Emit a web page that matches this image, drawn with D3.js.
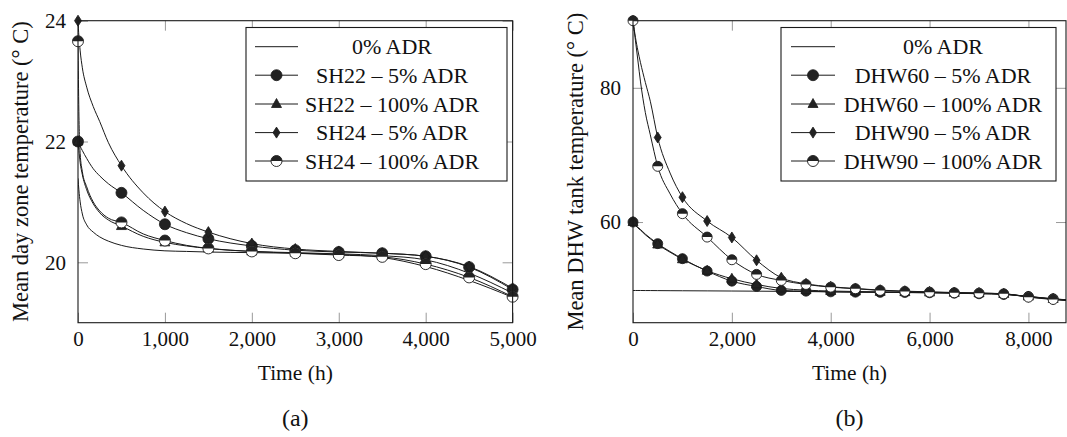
<!DOCTYPE html>
<html>
<head>
<meta charset="utf-8">
<script src="https://cdn.jsdelivr.net/npm/d3@7"></script>
<style>
  body { margin: 0; background: #fff; }
  text { font-family: "Liberation Serif", "DejaVu Serif", serif; fill: #111; }
</style>
</head>
<body>
<div id="main"></div>
<script>
// ---- data (a): mean day zone temperature ----
var leftTime = [0, 10, 25, 50, 100, 175, 250, 350, 500, 750, 1000, 1250, 1500, 2000, 2500, 3000, 3500, 4000, 4500, 5000];
var sh0   = [21.39, 21.2, 21.0, 20.8, 20.62, 20.5, 20.42, 20.35, 20.28, 20.22, 20.19, 20.18, 20.17, 20.16, 20.15, 20.13, 20.08, 19.93, 19.7, 19.42];
var sh22_5   = [22, 21.97, 21.92, 21.85, 21.72, 21.55, 21.43, 21.3, 21.15, 20.86, 20.63, 20.49, 20.39, 20.27, 20.2, 20.17, 20.15, 20.1, 19.92, 19.55];
var sh22_100 = [22, 21.85, 21.65, 21.45, 21.2, 20.97, 20.82, 20.7, 20.6, 20.43, 20.33, 20.27, 20.23, 20.18, 20.16, 20.14, 20.11, 20.04, 19.82, 19.49];
var sh24_5   = [24, 23.75, 23.5, 23.22, 22.9, 22.58, 22.33, 21.98, 21.6, 21.15, 20.84, 20.64, 20.5, 20.31, 20.22, 20.18, 20.15, 20.1, 19.93, 19.57];
var sh24_100 = [23.66, 22.5, 21.8, 21.5, 21.25, 21.0, 20.85, 20.73, 20.66, 20.47, 20.36, 20.28, 20.23, 20.18, 20.15, 20.12, 20.09, 19.97, 19.75, 19.43];
var leftXTicks = [0, 1000, 2000, 3000, 4000, 5000];
var leftYTicks = [20, 22, 24];
var leftLabels = ["0% ADR", "SH22 \u2013 5% ADR", "SH22 \u2013 100% ADR", "SH24 \u2013 5% ADR", "SH24 \u2013 100% ADR"];

// ---- data (b): mean DHW tank temperature ----
var rightTime = [0, 50, 100, 150, 250, 350, 500, 750, 1000, 1500, 2000, 2500, 3000, 3500, 4000, 4500, 5000, 5500, 6000, 6500, 7000, 7500, 8000, 8500, 8760];
var dhw0     = [49.8, 49.8, 49.8, 49.8, 49.79, 49.79, 49.78, 49.77, 49.76, 49.74, 49.72, 49.7, 49.67, 49.64, 49.6, 49.56, 49.53, 49.5, 49.46, 49.41, 49.35, 49.25, 48.9, 48.5, 48.35];
var dhw60_5   = [60, 59.6, 59.2, 58.9, 58.2, 57.6, 56.78, 55.6, 54.54, 52.69, 51.19, 50.4, 49.81, 49.7, 49.6, 49.55, 49.52, 49.5, 49.46, 49.4, 49.31, 49.2, 48.91, 48.57, 48.42];
var dhw60_100 = [60, 59.5, 59.1, 58.8, 58.1, 57.5, 56.65, 55.5, 54.45, 52.75, 51.55, 50.7, 50.1, 49.85, 49.72, 49.65, 49.6, 49.55, 49.5, 49.45, 49.38, 49.28, 48.9, 48.55, 48.4];
var dhw90_5   = [90, 87.5, 85.5, 83.8, 80.8, 78.0, 72.6, 67.3, 63.7, 60.15, 57.7, 54.3, 51.7, 50.8, 50.35, 50.1, 49.85, 49.7, 49.6, 49.5, 49.42, 49.32, 48.85, 48.5, 48.35];
var dhw90_100 = [90, 87.0, 84.0, 81.0, 76.3, 73.0, 68.3, 64.2, 61.25, 57.76, 54.38, 52.2, 51.3, 50.7, 50.3, 50.06, 49.81, 49.66, 49.55, 49.46, 49.4, 49.3, 48.8, 48.46, 48.3];
var rightXTicks = [0, 2000, 4000, 6000, 8000];
var rightYTicks = [60, 80];
var rightLabels = ["0% ADR", "DHW60 \u2013 5% ADR", "DHW60 \u2013 100% ADR", "DHW90 \u2013 5% ADR", "DHW90 \u2013 100% ADR"];

var markTypes = ["none", "circle", "triangle", "diamond", "halfcircle"];

var svg = d3.select("#main").append("svg")
    .attr("width", 1067)
    .attr("height", 437);

var ink = "#1a1a1a";

// draw one marker of the given type at (0,0) inside group g
function drawMark(g, type, r) {
  if (type == "circle") {
    g.append("circle").attr("r", r).attr("fill", "#222").attr("stroke", ink).attr("stroke-width", 0.8);
  } else if (type == "triangle") {
    g.append("path").attr("d", "M0,-5.5L5,3.5L-5,3.5Z").attr("fill", "#222").attr("stroke", ink).attr("stroke-width", 0.8);
  } else if (type == "diamond") {
    g.append("path").attr("d", "M0,-5.5L3.5,0L0,5.5L-3.5,0Z").attr("fill", "#222").attr("stroke", ink).attr("stroke-width", 0.8);
  } else if (type == "halfcircle") {
    g.append("circle").attr("r", r).attr("fill", "#fff").attr("stroke", ink).attr("stroke-width", 0.9);
    g.append("path").attr("d", "M" + (-r) + ",0A" + r + "," + r + " 0 0 1 " + r + ",0Z").attr("fill", "#222");
  }
}

function panel(cfg) {
  var x = d3.scaleLinear().domain(cfg.xDomain).range(cfg.xRange);
  var y = d3.scaleLinear().domain(cfg.yDomain).range(cfg.yRange);
  var x0 = cfg.xRange[0], x1 = cfg.xRange[1], y0 = cfg.yRange[0], y1 = cfg.yRange[1];

  var g = svg.append("g");

  // clip for lines
  g.append("clipPath").attr("id", cfg.id + "clip")
    .append("rect").attr("x", x0).attr("y", y1).attr("width", x1 - x0).attr("height", y0 - y1);

  // axes (ticks inward, mirrored)
  var bottom = g.append("g").attr("transform", "translate(0," + y0 + ")")
    .call(d3.axisBottom(x).tickValues(cfg.xTicks).tickFormat(d3.format(",")).tickSize(-10).tickPadding(8));
  var top = g.append("g").attr("transform", "translate(0," + y1 + ")")
    .call(d3.axisTop(x).tickValues(cfg.xTicks).tickFormat("").tickSize(-10));
  var left = g.append("g").attr("transform", "translate(" + x0 + ",0)")
    .call(d3.axisLeft(y).tickValues(cfg.yTicks).tickFormat(d3.format("d")).tickSize(-10).tickPadding(12));
  var right = g.append("g").attr("transform", "translate(" + x1 + ",0)")
    .call(d3.axisRight(y).tickValues(cfg.yTicks).tickFormat("").tickSize(-10));
  [bottom, top, left, right].forEach(function(a) {
    a.select(".domain").remove();
    a.selectAll(".tick line").attr("stroke", "#999").attr("stroke-width", 1);
    a.selectAll("text").attr("font-family", "Liberation Serif").attr("font-size", 21).attr("fill", "#111");
  });

  // curves
  var line = d3.line()
    .x(function(d) { return x(d[0]); })
    .y(function(d) { return y(d[1]); })
    .curve(d3.curveMonotoneX);

  cfg.series.forEach(function(s, i) {
    var pts = cfg.time.map(function(t, k) { return [t, s[k]]; });
    g.append("path").datum(pts)
      .attr("clip-path", "url(#" + cfg.id + "clip)")
      .attr("d", line)
      .attr("fill", "none")
      .attr("stroke", ink)
      .attr("stroke-width", 1);
    if (markTypes[i] != "none") {
      pts.filter(function(d) { return d[0] % 500 == 0; }).forEach(function(d) {
        var m = g.append("g").attr("transform", "translate(" + x(d[0]) + "," + y(d[1]) + ")");
        drawMark(m, markTypes[i], cfg.r);
      });
    }
  });

  // frame
  g.append("rect").attr("x", x0).attr("y", y1).attr("width", x1 - x0).attr("height", y0 - y1)
    .attr("fill", "none").attr("stroke", ink).attr("stroke-width", 1.1);

  // legend
  var lg = cfg.legend;
  g.append("rect").attr("x", lg.x0).attr("y", lg.y0).attr("width", lg.x1 - lg.x0).attr("height", lg.y1 - lg.y0)
    .attr("fill", "#fff").attr("stroke", ink).attr("stroke-width", 1.1);
  cfg.labels.forEach(function(lab, i) {
    var ry = lg.rows[i];
    g.append("line").attr("x1", lg.s0).attr("x2", lg.s1).attr("y1", ry).attr("y2", ry)
      .attr("stroke", ink).attr("stroke-width", 1);
    if (markTypes[i] != "none") {
      var m = g.append("g").attr("transform", "translate(" + ((lg.s0 + lg.s1) / 2) + "," + ry + ")");
      drawMark(m, markTypes[i], 5.5);
    }
    g.append("text").attr("x", lg.tx).attr("y", ry).attr("dy", "0.35em")
      .attr("text-anchor", "middle").attr("font-size", 22).text(lab);
  });

  // axis titles
  var cx = (x0 + x1) / 2, cy = (y0 + y1) / 2;
  g.append("text").attr("x", cx).attr("y", 380).attr("text-anchor", "middle")
    .attr("font-size", 21.5).text("Time (h)");
  g.append("text").attr("transform", "translate(" + cfg.yLabelX + "," + cy + ") rotate(-90)")
    .attr("dy", "0.35em").attr("text-anchor", "middle").attr("font-size", 22.5).text(cfg.yTitle);
  g.append("text").attr("x", cx).attr("y", 426).attr("text-anchor", "middle")
    .attr("font-size", 24).text(cfg.caption);
}

var rows = [46.7, 75.2, 104, 132.6, 161];

panel({
  id: "a",
  xDomain: [0, 5000], xRange: [78, 512.6],
  yDomain: [19, 24], yRange: [322.7, 20.7],
  xTicks: leftXTicks, yTicks: leftYTicks,
  time: leftTime,
  series: [sh0, sh22_5, sh22_100, sh24_5, sh24_100],
  labels: leftLabels,
  r: 5.5,
  legend: {x0: 246, x1: 507, y0: 27.5, y1: 181, s0: 255, s1: 298, tx: 392, rows: rows},
  yTitle: "Mean day zone temperature (\u00b0 C)",
  yLabelX: 20,
  caption: "(a)"
});

panel({
  id: "b",
  xDomain: [0, 8760], xRange: [633, 1066],
  yDomain: [45, 90], yRange: [322.7, 20.7],
  xTicks: rightXTicks, yTicks: rightYTicks,
  time: rightTime,
  series: [dhw0, dhw60_5, dhw60_100, dhw90_5, dhw90_100],
  labels: rightLabels,
  r: 5,
  legend: {x0: 781, x1: 1056, y0: 27.5, y1: 181, s0: 791, s1: 835, tx: 943, rows: rows},
  yTitle: "Mean DHW tank temperature (\u00b0 C)",
  yLabelX: 575,
  caption: "(b)"
});
</script>
</body>
</html>
